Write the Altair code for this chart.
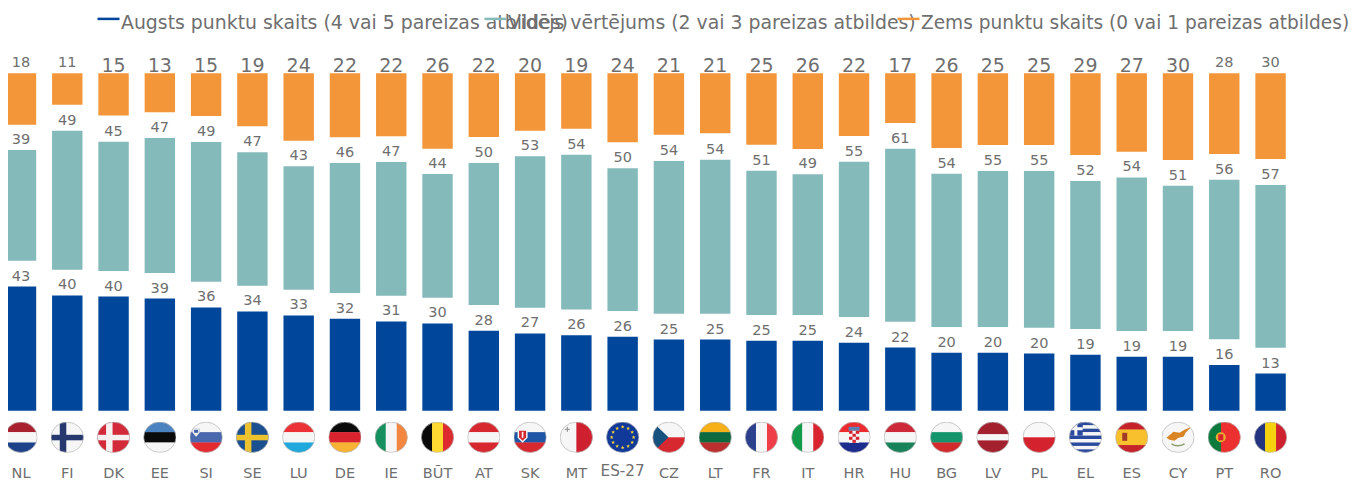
import math
from urllib.parse import quote
import altair as alt
import pandas as pd

cats = ["NL","FI","DK","EE","SI","SE","LU","DE","IE","BŪT","AT","SK","MT","ES-27","CZ","LT","FR","IT","HR","HU","BG","LV","PL","EL","ES","CY","PT","RO"]
high_labels = [43,40,40,39,36,34,33,32,31,30,28,27,26,26,25,25,25,25,24,22,20,20,20,19,19,19,16,13]
high_values = [43.4,40.3,39.9,39.2,36.1,34.7,33.3,32.2,31.2,30.5,28.0,27.0,26.4,25.9,24.9,24.9,24.5,24.5,23.8,22.1,20.3,20.3,20.0,19.6,18.9,18.9,16.0,13.0]
mid_labels = [39,49,45,47,49,47,43,46,47,44,50,53,54,50,54,54,51,49,55,61,54,55,55,52,54,51,56,57]
mid_values = [38.8,48.6,45.2,47.2,48.9,46.7,43.2,45.4,46.8,43.3,49.6,53.0,54.1,49.9,53.4,53.9,50.4,49.2,54.3,60.5,53.6,54.5,54.8,51.7,53.7,50.8,55.8,56.9]
low_labels = [18,11,15,13,15,19,24,22,22,26,22,20,19,24,21,21,25,26,22,17,26,25,25,29,27,30,28,30]
low_values = [18.0,11.0,14.8,13.6,14.9,18.5,23.6,22.4,22.0,26.4,22.3,20.1,19.4,24.1,21.5,21.0,25.0,26.5,21.9,17.4,26.1,25.1,25.1,28.6,27.4,30.3,28.2,30.0]
small_top = ["NL","FI","PT","RO"]
GAP = 9
TOTAL = 118

names = ["Augsts punktu skaits (4 vai 5 pareizas atbildes)",
         "Vidējs vērtējums (2 vai 3 pareizas atbildes)",
         "Zems punktu skaits (0 vai 1 pareizas atbildes)"]
BLUE, TEAL, ORANGE = "#00469a", "#85baba", "#f39639"
GREY = "#6f6f6f"
FONT = "DejaVu Sans"

W, H = 33, 31


def rect(x, y, w, h, c):
    return f'<rect x="{x}" y="{y}" width="{w}" height="{h}" fill="{c}"/>'


def hs(*cols, weights=None):
    weights = weights or [1] * len(cols)
    t = sum(weights)
    y, out = 0, ""
    for c, k in zip(cols, weights):
        out += rect(0, round(y, 2), W, round(H * k / t + 0.3, 2), c)
        y += H * k / t
    return out


def vs(*cols, weights=None):
    weights = weights or [1] * len(cols)
    t = sum(weights)
    x, out = 0, ""
    for c, k in zip(cols, weights):
        out += rect(round(x, 2), 0, round(W * k / t + 0.3, 2), H, c)
        x += W * k / t
    return out


def cross(bg, fg):
    return rect(0, 0, W, H, bg) + rect(9, 0, 6.5, H, fg) + rect(0, 13, W, 5.5, fg)


def star(cx, cy, r, c):
    pts = []
    for i in range(10):
        a = -math.pi / 2 + i * math.pi / 5
        q = r if i % 2 == 0 else r * 0.42
        pts.append(f"{cx + q * math.cos(a):.2f},{cy + q * math.sin(a):.2f}")
    return f'<polygon points="{" ".join(pts)}" fill="{c}"/>'


def eu():
    s = rect(0, 0, W, H, "#10399a")
    for i in range(12):
        a = i * math.pi / 6
        s += star(16.5 + 11 * math.cos(a), 15.5 + 10.3 * math.sin(a), 2, "#f6d530")
    return s


def croatia():
    s = hs("#ee2a2f", "#f6f6f6", "#1b2c8e")
    s += rect(11, 5, 11, 4, "#5a7fb5") + rect(11.5, 9, 10, 12, "#f4f4f4")
    for r in range(4):
        for c in range(3):
            if (r + c) % 2 == 0:
                s += rect(11.5 + c * 3.4, 9 + r * 3, 3.4, 3, "#d8232f")
    return s


def greece():
    s = hs(*["#2a4a9e", "#f6f6f6"] * 4, "#2a4a9e")
    s += rect(0, 0, 13.8, 13.8, "#2a4a9e") + rect(5.4, 0, 3, 13.8, "#f6f6f6") + rect(0, 5.4, 13.8, 3, "#f6f6f6")
    return s


def cyprus():
    return (rect(0, 0, W, H, "#f6f6f6")
            + '<path d="M5 16 L12 10 L18 11 L23 8 L30 5 L24 11 L22 15 L17 16 L13 19 L8 18 Z" fill="#d98526"/>'
            + '<path d="M10 22 Q16 26 23 22" fill="none" stroke="#8a9a6a" stroke-width="1.4"/>')


flag_art = {
    "NL": hs("#a9202e", "#f6f6f6", "#1e4289"),
    "FI": cross("#f6f6f6", "#27386f"),
    "DK": cross("#d32a3a", "#f6f0f0"),
    "EE": hs("#4a83c0", "#0a0a0a", "#f6f6f6"),
    "SI": hs("#f6f6f6", "#4a68ae", "#e52b2f") + rect(3, 7, 7, 6, "#3f5fa8") + '<path d="M3 7 H10 V11 L6.5 15 L3 11 Z" fill="#f0f0f0"/>' + rect(4.5, 8, 4, 3, "#3f5fa8"),
    "SE": cross("#1a508f", "#ecc22f"),
    "LU": hs("#ed3237", "#f6f6f6", "#1fa8dc"),
    "DE": hs("#0a0a0a", "#d9232e", "#f8b334"),
    "IE": vs("#16905f", "#f6f6f6", "#f4873f"),
    "BŪT": vs("#0a0a0a", "#fdd931", "#dc2a2e"),
    "AT": hs("#d7282f", "#f6f6f6", "#d7282f"),
    "SK": hs("#f6f6f6", "#1e55a5", "#d6282f") + '<path d="M4 8 H14 V16 L9 21 L4 16 Z" fill="#f6f6f6"/>' + '<path d="M5.5 9 H12.5 V15.5 L9 19 L5.5 15.5 Z" fill="#d6282f"/>' + rect(8.2, 10, 1.6, 6, "#f6f6f6"),
    "MT": vs("#f6f6f6", "#ce202f") + rect(5, 7, 5, 1.2, "#999999") + rect(6.9, 5, 1.2, 5, "#999999"),
    "ES-27": eu(),
    "CZ": hs("#f6f6f6", "#d7282f") + '<path d="M0 0 L16 15.5 L0 31 Z" fill="#17527f"/>',
    "LT": hs("#f7b018", "#0d6a3f", "#bc2f2f"),
    "FR": vs("#2b3f8c", "#f6f6f6", "#ef3e47"),
    "IT": vs("#119a4a", "#f6f6f6", "#d9242f"),
    "HR": croatia(),
    "HU": hs("#ce2939", "#f6f6f6", "#18835a"),
    "BG": hs("#f6f6f6", "#14956c", "#d32a2d"),
    "LV": hs("#a3202e", "#f6f6f6", "#a3202e", weights=[2, 1, 2]),
    "PL": hs("#f8f8f8", "#d4232f"),
    "EL": greece(),
    "ES": hs("#c6222a", "#f8c02d", "#c6222a", weights=[1, 2, 1]) + rect(7, 11, 5, 8, "#a23a28"),
    "CY": cyprus(),
    "PT": vs("#0c7a3d", "#ec2f2f", weights=[2, 3]) + '<circle cx="13" cy="15.5" r="5" fill="#e8b030"/>' + rect(10.5, 12.5, 5, 6, "#d8232f"),
    "RO": vs("#23337f", "#f6d20e", "#cf2030"),
}


def flag_uri(art):
    svg = (f'<svg xmlns="http://www.w3.org/2000/svg" width="{W}" height="{H}" viewBox="0 0 {W} {H}">'
           f'<defs><clipPath id="c"><ellipse cx="16.5" cy="15.5" rx="16.2" ry="15.2"/></clipPath></defs>'
           f'<g clip-path="url(#c)">{art}</g>'
           f'<ellipse cx="16.5" cy="15.5" rx="16.2" ry="15.2" fill="none" stroke="#b5b5b5" stroke-width="0.7"/></svg>')
    return "data:image/svg+xml," + quote(svg)


rows = []
for i, c in enumerate(cats):
    b = high_values[i]
    m0 = b + GAP
    m1 = m0 + mid_values[i]
    rows.append({
        "cat": c, "high": b, "high_label": high_labels[i],
        "m0": m0, "m1": m1, "mid_label": mid_labels[i],
        "l0": TOTAL - low_values[i], "l1": TOTAL, "low_label": low_labels[i],
        "zero": 0, "flag": flag_uri(flag_art[c]),
        "s0": names[0], "s1": names[1], "s2": names[2],
    })
df = pd.DataFrame(rows)

PH = 337.4
x = alt.X("cat:N", sort=cats, axis=None,
          scale=alt.Scale(domain=cats, range=[-10.14, 1285.7], paddingInner=0.343, paddingOuter=0.1715))
yscale = alt.Scale(domain=[0, TOTAL], nice=False, zero=False)


def legend(cx, col, fs):
    return alt.Legend(orient="none", legendX=cx, legendY=-62.5, title=None, symbolType="M-1,-0.4H1",
                      symbolSize=484, symbolStrokeColor=col, symbolStrokeWidth=2.5,
                      labelFontSize=fs, labelColor=GREY, labelFont=FONT, labelOffset=0, labelLimit=600,
                      padding=0, symbolOffset=0)


def bars(y0, y1, series, name, col, cx, fs):
    return alt.Chart(df).mark_bar().encode(
        x=x,
        y=alt.Y(f"{y0}:Q", scale=yscale, axis=None),
        y2=f"{y1}:Q",
        color=alt.Color(f"{series}:N", scale=alt.Scale(domain=[name], range=[col]), legend=legend(cx, col, fs)),
    )


def labels(y, text, size, dy, flt=None):
    base = alt.Chart(df)
    if flt is not None:
        base = base.transform_filter(flt)
    return base.mark_text(font=FONT, fontSize=size, color=GREY, baseline="alphabetic", dy=dy).encode(
        x=x, y=alt.Y(f"{y}:Q", scale=yscale, axis=None), text=f"{text}:N")


is_small = alt.FieldOneOfPredicate(field="cat", oneOf=small_top)
not_small = {"not": is_small}

flags = alt.Chart(df).mark_image(width=W, height=H).encode(x=x, y=alt.value(364), url="flag:N")


def codes(flt, size, ypos):
    return alt.Chart(df).transform_filter(flt).mark_text(
        font=FONT, fontSize=size, color=GREY, baseline="middle").encode(
        x=x, y=alt.value(ypos), text="cat:N")


is_eu = alt.FieldEqualPredicate(field="cat", equal="ES-27")

chart = alt.layer(
    bars("zero", "high", "s0", names[0], BLUE, 88, 18.87),
    bars("m0", "m1", "s1", names[1], TEAL, 475, 18.87),
    bars("l0", "l1", "s2", names[2], ORANGE, 888, 18.55),
    labels("high", "high_label", 14.5, -6),
    labels("m1", "mid_label", 14.5, -6),
    labels("l1", "low_label", 14.5, -6.5, is_small),
    labels("l1", "low_label", 19, -1.5, not_small),
    flags,
    codes({"not": is_eu}, 14.5, 401),
    codes(is_eu, 15.2, 398),
).resolve_scale(color="independent").properties(
    width=1341, height=PH,
    autosize=alt.AutoSizeParams(type="none"),
    padding={"left": 0, "right": 0, "top": 65.3, "bottom": 70.3},
).configure_view(stroke=None)

chart.save("out.html", embed_options={"renderer": "svg", "actions": False})
